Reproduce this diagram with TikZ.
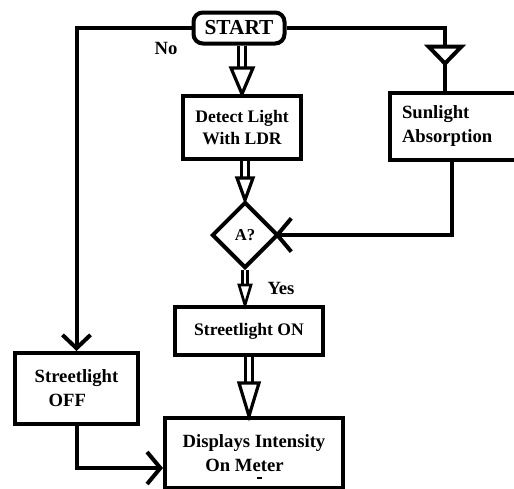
\documentclass[tikz,border=0pt]{standalone}
\usepackage{fontspec}
\setmainfont{Liberation Serif}
\usetikzlibrary{arrows.meta,calc,shapes.geometric}
\begin{document}
\begin{tikzpicture}[x=0.75pt,y=-0.75pt,
  box/.style={draw, line width=3pt, rectangle, inner sep=0pt, align=center,
    font=\fontsize{13.5}{17.5}\selectfont\bfseries},
  conn/.style={line width=3pt},
  shaft/.style={draw, line width=2.4pt, double=white, double distance=2.4pt},
  thinshaft/.style={draw, line width=2.6pt, double=white, double distance=0.8pt},
  head/.style={draw, fill=white, line width=2.4pt, line join=miter},
  lbl/.style={font=\fontsize{14}{17}\selectfont\bfseries}
]
\useasboundingbox (0,0) rectangle (514,489);
\clip (0,0) rectangle (514,489);

% nodes
\node[box, rounded corners=7pt, minimum width=68.25pt, minimum height=23.25pt,
  font=\fontsize{16}{18}\selectfont\bfseries] (start) at (239,28) {START};
\node[box, minimum width=88.5pt, minimum height=47.25pt,
  font=\fontsize{13.2}{16.5}\selectfont\bfseries] (detect) at (242,127.5) {Detect Light\\With LDR};
\node[box, text width=87pt, inner xsep=9pt, minimum height=50.25pt, align=left,
  font=\fontsize{14}{17.5}\selectfont\bfseries] (sun) at (460,126) {Sunlight\\Absorption};
\node[draw, diamond, line width=3pt, inner sep=0pt, minimum width=49.5pt, minimum height=49.5pt,
  font=\fontsize{12.5}{15}\selectfont\bfseries] (dia) at (245,235) {A?};
\node[box, minimum width=111pt, minimum height=36pt,
  font=\fontsize{13.2}{16}\selectfont\bfseries] (on) at (249,331) {Streetlight ON};
\node[box, minimum width=92.25pt, minimum height=53.25pt, align=left,
  font=\fontsize{14}{18}\selectfont\bfseries] (off) at (76.5,388.5) {Streetlight\\\hspace*{10.5pt}OFF};
\node[box, minimum width=133.5pt, minimum height=52.5pt, align=left,
  font=\fontsize{14}{18.5}\selectfont\bfseries] (disp) at (254,453) {Displays Intensity\\\hspace*{17pt}On Meter};

% labels
\node[lbl] (no) at (166,48) {No};
\node[lbl] (yes) at (281,288) {Yes};

% START -> Streetlight OFF (No)
\draw[conn, -{Straight Barb[length=10pt,width=21pt]}] (start.west) -| (off.north);

% START -> Sunlight Absorption with mid triangle
\coordinate (sunin) at ([xshift=42.75pt]sun.north west);
\draw[conn] (start.east) -| (sunin);
\coordinate (tritop) at ($(sunin)+(0,-44)$);
\draw[conn, fill=white, line join=miter] ($(tritop)+(-16.5,0)$) -- ($(tritop)+(16.5,0)$) -- ($(tritop)+(0,17)$) -- cycle;

% Sunlight -> decision
\coordinate (sunout) at ([xshift=48pt]sun.south west);
\coordinate (diain) at ([xshift=-4pt]dia.east);
\draw[conn, -{Straight Barb[length=10.5pt,width=25pt]}] (sunout) |- (diain);

% START -> Detect (double arrow)
\draw[shaft] (start.south -| detect.north) -- ($(detect.north)+(0,-26)$);
\draw[head] ($(detect.north)+(-11,-26)$) -- ($(detect.north)+(11,-26)$) -- (detect.north) -- cycle;

% Detect -> decision
\draw[shaft] (detect.south -| dia.north) -- ($(dia.north)+(0,-22)$);
\draw[head] ($(dia.north)+(-8,-22)$) -- ($(dia.north)+(8,-22)$) -- (dia.north) -- cycle;

% decision -> Streetlight ON (Yes)
\draw[thinshaft] (dia.south) -- ($(dia.south |- on.north)+(0,-20)$);
\draw[head, line width=2pt] ($(dia.south |- on.north)+(-6,-20)$) -- ($(dia.south |- on.north)+(6,-20)$) -- (dia.south |- on.north) -- cycle;

% Streetlight ON -> Displays
\draw[shaft] (on.south) -- ($(on.south |- disp.north)+(0,-33)$);
\draw[head] ($(on.south |- disp.north)+(-10,-33)$) -- ($(on.south |- disp.north)+(10,-33)$) -- (on.south |- disp.north) -- cycle;

% Streetlight OFF -> Displays
\coordinate (dispin) at ([yshift=-39pt]disp.north west);
\draw[conn, -{Straight Barb[length=10pt,width=24pt]}] (off.south) |- (dispin);

% small mark in the display box
\draw[line width=1.2pt] ($(disp.center)+(3,25)$) -- ($(disp.center)+(8,25)$);
\end{tikzpicture}
\end{document}
